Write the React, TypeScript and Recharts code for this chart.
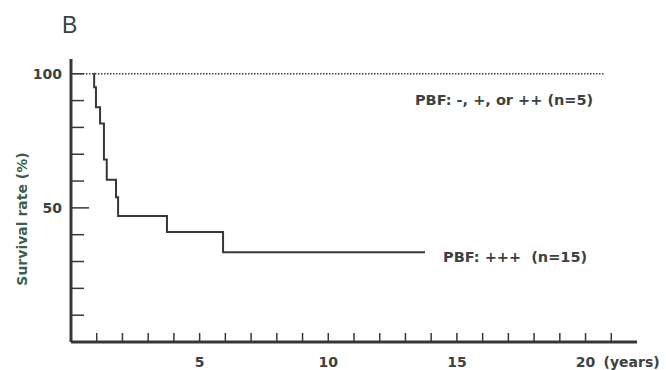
import { LineChart, Line, XAxis, YAxis, ReferenceDot } from "recharts";

// Kaplan-Meier curve, PBF +++ (n=15): step times (years) and survival (%)
const pbf3Years = [0.88, 0.9, 0.97, 1.13, 1.28, 1.39, 1.75, 1.83, 3.73, 5.91, 13.76];
const pbf3Survival = [100, 95, 87.5, 81.5, 68, 60.5, 54, 47, 41, 33.5, 33.5];

// PBF -, +, ++ (n=5): nobody died
const pbfLowYears = [0, 20.7];
const pbfLowSurvival = [100, 100];

const xTicks = [1, 2, 3, 4, 5, 6, 7, 8, 9, 10, 11, 12, 13, 14, 15, 16, 17, 18, 19, 20, 21];
const xLabels = [5, 10, 15, 20];
const yTicks = [10, 20, 30, 40, 50, 60, 70, 80, 90, 100];
const yLabels = [50, 100];

const pbf3Data = pbf3Years.map((t, i) => ({ t, s: pbf3Survival[i] }));
const pbfLowData = pbfLowYears.map((t, i) => ({ t, s: pbfLowSurvival[i] }));

const INK = "#333a36";
const TEXT = "#3c423f";
const FONT = "'DejaVu Sans', Verdana, sans-serif";

function XTick({ x, y, payload }: any) {
  const v = payload.value;
  return (
    <g>
      <line x1={x} x2={x} y1={y} y2={y - 9} stroke={INK} strokeWidth={1.5} />
      {xLabels.includes(v) && (
        <text x={x} y={y + 20} textAnchor="middle" dominantBaseline="central"
          fontFamily={FONT} fontSize={14} fontWeight="bold" fill={TEXT}>{v}</text>
      )}
      {v === 20 && (
        <text x={x + 18} y={y + 20} textAnchor="start" dominantBaseline="central"
          fontFamily={FONT} fontSize={14} fontWeight="bold" fill={TEXT}>(years)</text>
      )}
    </g>
  );
}

function YTick({ x, y, payload }: any) {
  const v = payload.value;
  const len = v === 50 ? 18 : 13;
  return (
    <g>
      <line x1={x} x2={x + len} y1={y} y2={y} stroke={INK} strokeWidth={1.5} />
      {yLabels.includes(v) && (
        <text x={x - 9} y={y} textAnchor="end" dominantBaseline="central"
          fontFamily={FONT} fontSize={14} fontWeight="bold" fill={TEXT}>{v}</text>
      )}
    </g>
  );
}

function YLabel() {
  return (
    <text x={22} y={219} transform="rotate(-90 22 219)" textAnchor="middle" dominantBaseline="central"
      fontFamily={FONT} fontSize={14} fontWeight="bold" fill="#3d5e4d">Survival rate (%)</text>
  );
}

function NoteLabel({ viewBox, value }: any) {
  return (
    <text x={viewBox.x} y={viewBox.y} textAnchor="start" dominantBaseline="central"
      fontFamily={FONT} fontSize={14.5} fontWeight="bold" fill={TEXT} style={{ whiteSpace: "pre" }}>{value}</text>
  );
}

export default function App() {
  return (
    <div style={{ position: "absolute", left: 0, top: 0, width: 666, height: 370, background: "#fff" }}>
      <div style={{ position: "absolute", left: 62, top: 12, fontFamily: "'Liberation Sans', Arial, sans-serif", fontSize: 23, color: TEXT }}>B</div>
      <LineChart width={666} height={370} margin={{ top: 59, right: 29, left: 0, bottom: 0 }}>
        <XAxis type="number" dataKey="t" domain={[0, 22]} ticks={xTicks} interval={0}
          height={28} tickSize={0} tickMargin={0} tickLine={false}
          axisLine={{ stroke: INK, strokeWidth: 3 }} tick={<XTick />} allowDataOverflow />
        <YAxis type="number" dataKey="s" domain={[0, 105.5]} ticks={yTicks} interval={0}
          width={71} tickSize={0} tickMargin={0} tickLine={false}
          axisLine={{ stroke: INK, strokeWidth: 3 }} tick={<YTick />} label={<YLabel />} allowDataOverflow />
        <Line data={pbfLowData} dataKey="s" type="linear" stroke="#3f4542" strokeWidth={1.5}
          strokeDasharray="1.5 1.5" dot={false} isAnimationActive={false} />
        <Line data={pbf3Data} dataKey="s" type="stepAfter" stroke={INK} strokeWidth={2}
          dot={false} isAnimationActive={false} />
        <ReferenceDot x={13.37} y={90.2} r={0} fill="none" stroke="none"
          label={<NoteLabel value="PBF: -, +, or ++ (n=5)" />} />
        <ReferenceDot x={14.46} y={31.7} r={0} fill="none" stroke="none"
          label={<NoteLabel value="PBF: +++  (n=15)" />} />
      </LineChart>
    </div>
  );
}
